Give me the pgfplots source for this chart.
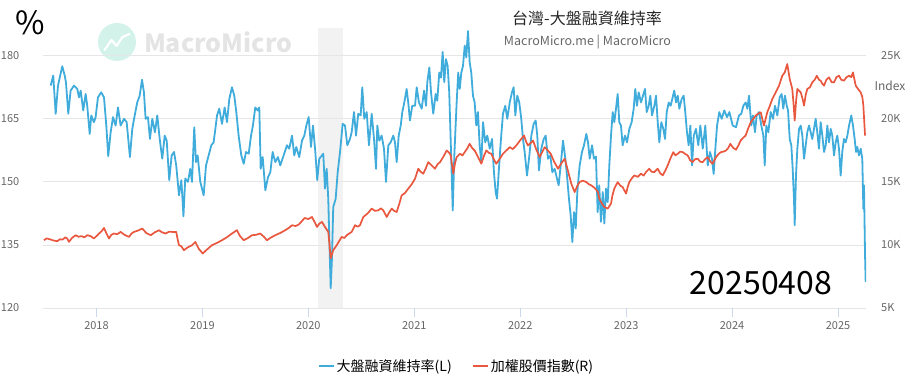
\documentclass[border=0pt]{standalone}
\usepackage{pgfplots}
\pgfplotsset{compat=1.18}
\usepackage{pgfplotstable}
\usepackage{fontspec}
\setmainfont{Noto Sans CJK TC}
\definecolor{mmblue}{HTML}{3FACDB}
\definecolor{mmred}{HTML}{E9573F}
\definecolor{gridc}{HTML}{E6E6E6}
\definecolor{tickc}{HTML}{CCD6EB}
\definecolor{labc}{HTML}{666666}
\definecolor{bandc}{HTML}{F2F2F2}
\definecolor{wmgray}{HTML}{E4E4E4}
\definecolor{wmmint}{HTML}{D3F3EA}

\pgfplotstableread{
x y
2017.568 172.9
2017.592 175.3
2017.615 166.2
2017.637 172.9
2017.677 177.5
2017.700 175.3
2017.712 173.7
2017.734 166.2
2017.756 171.7
2017.788 172.9
2017.819 172.1
2017.835 170.1
2017.851 171.7
2017.875 167.0
2017.898 170.9
2017.913 168.1
2017.936 161.4
2017.951 165.8
2017.976 164.2
2017.992 165.4
2018.014 170.1
2018.045 171.3
2018.071 170.1
2018.093 163.4
2018.111 156.1
2018.134 161.8
2018.156 165.4
2018.181 163.4
2018.203 167.7
2018.228 163.4
2018.260 165.0
2018.285 164.2
2018.316 155.9
2018.338 162.6
2018.361 165.8
2018.385 168.9
2018.408 170.5
2018.430 174.3
2018.448 171.3
2018.464 165.0
2018.486 165.4
2018.505 160.2
2018.527 165.0
2018.552 161.8
2018.574 165.8
2018.597 160.2
2018.621 155.5
2018.644 161.0
2018.663 159.8
2018.687 150.4
2018.710 156.3
2018.732 157.1
2018.753 153.9
2018.779 146.8
2018.801 150.4
2018.812 146.0
2018.821 141.8
2018.838 150.8
2018.864 150.0
2018.885 153.1
2018.902 150.0
2018.923 163.0
2018.939 154.7
2018.955 156.3
2018.980 150.0
2019.012 146.8
2019.034 153.9
2019.059 156.3
2019.084 158.7
2019.106 159.4
2019.138 165.8
2019.159 167.4
2019.185 163.8
2019.210 167.7
2019.232 164.2
2019.254 169.7
2019.279 172.5
2019.301 170.5
2019.320 166.6
2019.342 161.0
2019.367 156.3
2019.390 154.3
2019.411 157.1
2019.437 156.7
2019.459 161.0
2019.477 163.4
2019.499 167.7
2019.522 167.0
2019.537 167.7
2019.550 153.1
2019.569 155.9
2019.594 148.0
2019.619 151.1
2019.641 152.3
2019.663 157.1
2019.688 154.7
2019.713 155.9
2019.735 153.9
2019.767 156.3
2019.798 158.7
2019.820 157.9
2019.846 161.0
2019.867 156.3
2019.886 158.3
2019.914 155.9
2019.940 159.8
2019.962 161.0
2019.981 163.4
2020.003 165.4
2020.025 158.3
2020.044 163.4
2020.066 157.1
2020.084 150.4
2020.103 155.5
2020.129 156.3
2020.141 156.7
2020.157 148.4
2020.173 153.1
2020.188 146.0
2020.198 136.5
2020.211 124.7
2020.223 131.8
2020.235 144.0
2020.258 146.0
2020.277 152.3
2020.299 157.1
2020.324 163.8
2020.346 163.4
2020.368 158.7
2020.393 160.2
2020.409 161.8
2020.431 166.6
2020.450 161.0
2020.471 166.2
2020.494 165.8
2020.509 172.5
2020.528 165.0
2020.551 166.6
2020.572 158.7
2020.598 166.2
2020.620 160.2
2020.639 153.1
2020.651 163.4
2020.670 159.8
2020.692 161.0
2020.714 157.9
2020.733 150.0
2020.755 158.7
2020.777 159.4
2020.802 161.0
2020.818 159.4
2020.834 154.7
2020.853 161.0
2020.872 163.4
2020.887 166.6
2020.906 168.9
2020.928 172.1
2020.943 168.9
2020.959 164.6
2020.981 168.1
2021.007 168.1
2021.023 172.5
2021.044 168.9
2021.070 167.4
2021.092 171.7
2021.111 168.1
2021.123 173.7
2021.142 177.2
2021.158 171.3
2021.179 166.2
2021.202 170.9
2021.217 169.3
2021.236 176.0
2021.252 174.8
2021.268 180.9
2021.283 173.7
2021.299 179.2
2021.315 177.6
2021.330 171.3
2021.347 157.1
2021.363 143.2
2021.378 156.3
2021.400 168.9
2021.415 176.0
2021.429 172.1
2021.444 176.0
2021.460 177.6
2021.476 182.4
2021.491 179.6
2021.507 185.9
2021.523 178.4
2021.538 176.0
2021.554 170.5
2021.570 168.9
2021.585 163.4
2021.601 166.6
2021.617 158.7
2021.633 154.7
2021.649 164.2
2021.670 159.4
2021.689 161.0
2021.712 157.9
2021.734 160.2
2021.752 152.3
2021.768 147.6
2021.781 146.0
2021.797 152.3
2021.816 159.4
2021.837 166.2
2021.859 168.1
2021.878 165.0
2021.901 168.9
2021.922 171.3
2021.938 172.5
2021.954 165.8
2021.972 170.5
2021.991 168.9
2022.010 165.0
2022.026 160.2
2022.042 157.1
2022.064 151.5
2022.083 155.5
2022.105 161.0
2022.127 163.8
2022.146 164.6
2022.161 161.0
2022.177 152.7
2022.199 157.9
2022.222 160.2
2022.240 161.0
2022.262 155.5
2022.284 156.3
2022.303 152.3
2022.325 153.1
2022.347 150.8
2022.363 149.2
2022.382 153.9
2022.404 159.8
2022.426 155.5
2022.444 150.8
2022.460 146.0
2022.476 142.1
2022.492 135.7
2022.508 142.8
2022.524 138.9
2022.539 147.6
2022.561 153.9
2022.583 157.1
2022.602 158.7
2022.624 161.4
2022.640 159.4
2022.656 155.5
2022.678 158.7
2022.696 155.5
2022.715 156.0
2022.731 142.8
2022.746 149.2
2022.762 140.5
2022.779 147.6
2022.794 140.1
2022.810 148.4
2022.826 145.2
2022.841 153.9
2022.857 161.0
2022.873 166.6
2022.888 164.2
2022.904 167.4
2022.920 170.9
2022.935 164.2
2022.951 163.4
2022.967 158.7
2022.989 161.0
2023.008 159.4
2023.030 162.6
2023.052 164.2
2023.071 167.4
2023.086 172.1
2023.102 168.1
2023.118 171.3
2023.140 168.9
2023.159 170.5
2023.178 172.1
2023.194 166.6
2023.213 168.1
2023.228 170.5
2023.244 165.8
2023.266 168.1
2023.282 170.5
2023.298 164.2
2023.313 159.4
2023.332 164.2
2023.351 162.6
2023.367 160.2
2023.383 166.6
2023.402 168.9
2023.420 168.1
2023.439 170.1
2023.454 171.7
2023.471 168.9
2023.487 170.5
2023.502 167.4
2023.524 169.7
2023.543 170.5
2023.558 166.6
2023.574 161.8
2023.590 158.7
2023.606 163.4
2023.622 153.9
2023.638 161.0
2023.659 162.6
2023.681 158.7
2023.700 163.4
2023.723 157.9
2023.747 163.4
2023.770 153.9
2023.791 157.1
2023.810 155.5
2023.826 151.9
2023.842 157.9
2023.858 163.4
2023.879 166.6
2023.902 165.0
2023.926 167.0
2023.952 165.4
2023.974 166.6
2024.006 163.4
2024.037 163.0
2024.065 165.8
2024.087 166.2
2024.106 168.1
2024.128 168.9
2024.144 167.4
2024.160 170.5
2024.181 163.4
2024.197 165.8
2024.216 161.8
2024.232 165.8
2024.254 166.6
2024.276 163.4
2024.295 161.0
2024.308 153.9
2024.323 163.4
2024.342 161.8
2024.364 166.6
2024.386 165.0
2024.405 168.1
2024.427 165.8
2024.449 170.1
2024.468 170.9
2024.483 167.4
2024.499 170.5
2024.516 168.1
2024.528 167.0
2024.544 160.2
2024.559 158.7
2024.572 153.1
2024.584 146.0
2024.591 139.7
2024.603 151.5
2024.616 157.9
2024.632 162.6
2024.648 163.4
2024.663 161.0
2024.679 155.5
2024.695 158.7
2024.710 161.8
2024.726 163.4
2024.742 161.8
2024.757 160.2
2024.773 162.6
2024.789 165.0
2024.804 161.8
2024.820 157.9
2024.836 164.2
2024.852 161.0
2024.868 157.1
2024.884 158.7
2024.899 163.4
2024.915 159.4
2024.931 162.6
2024.946 161.0
2024.962 156.3
2024.978 159.4
2024.993 161.0
2025.009 157.9
2025.025 151.5
2025.040 157.1
2025.056 160.2
2025.072 159.4
2025.088 161.0
2025.104 163.4
2025.125 165.8
2025.141 163.4
2025.157 160.2
2025.170 157.1
2025.182 158.3
2025.198 156.3
2025.214 157.9
2025.229 155.5
2025.239 143.6
2025.245 149.2
2025.255 132.6
2025.261 126.2
}\margin

\pgfplotstableread{
x y
2017.504 10375
2017.530 10520
2017.560 10450
2017.595 10350
2017.630 10296
2017.655 10450
2017.680 10420
2017.705 10600
2017.724 10510
2017.740 10241
2017.770 10560
2017.804 10771
2017.830 10650
2017.860 10700
2017.885 10600
2017.913 10771
2017.945 10700
2017.976 10510
2018.000 10700
2018.024 10905
2018.050 11100
2018.071 11348
2018.095 10900
2018.118 10510
2018.140 10800
2018.165 10905
2018.195 10850
2018.228 11032
2018.265 10800
2018.307 10637
2018.330 10900
2018.354 11032
2018.395 11150
2018.432 11300
2018.470 10950
2018.512 10771
2018.550 11000
2018.590 11166
2018.620 11000
2018.653 10905
2018.685 11050
2018.716 11032
2018.753 11032
2018.765 10500
2018.779 9980
2018.800 9900
2018.826 9585
2018.860 9800
2018.902 9980
2018.933 10241
2018.965 9700
2019.003 9324
2019.045 9650
2019.090 9980
2019.135 10150
2019.185 10375
2019.230 10600
2019.279 10905
2019.326 11166
2019.355 10700
2019.390 10375
2019.430 10550
2019.468 10771
2019.505 10800
2019.546 10905
2019.580 10650
2019.610 10375
2019.650 10600
2019.688 10771
2019.735 10950
2019.782 11166
2019.815 11350
2019.846 11561
2019.880 11500
2019.909 11614
2019.940 11900
2019.965 12138
2020.000 12050
2020.034 12217
2020.060 11800
2020.082 11427
2020.105 11700
2020.129 11822
2020.157 11427
2020.188 11032
2020.200 10000
2020.211 8929
2020.235 9585
2020.268 9980
2020.290 10300
2020.315 10637
2020.340 10550
2020.362 10771
2020.385 10900
2020.409 11032
2020.440 11561
2020.465 11450
2020.487 11561
2020.519 12217
2020.560 12500
2020.598 12881
2020.630 12700
2020.660 12747
2020.685 12900
2020.707 12747
2020.740 12217
2020.765 12600
2020.787 12881
2020.810 12700
2020.834 12613
2020.860 13300
2020.881 13933
2020.910 14100
2020.943 14462
2020.975 14800
2021.007 15253
2021.038 16044
2021.060 15800
2021.085 15649
2021.110 16100
2021.132 16565
2021.165 16300
2021.195 16044
2021.220 16400
2021.243 16565
2021.275 17000
2021.306 17490
2021.330 17300
2021.344 17095
2021.368 15649
2021.385 16500
2021.400 16961
2021.431 17229
2021.455 17100
2021.476 17359
2021.500 17650
2021.523 18019
2021.545 17700
2021.570 17490
2021.600 17000
2021.633 16439
2021.655 17000
2021.680 17490
2021.705 17300
2021.727 17229
2021.750 16800
2021.774 16439
2021.805 16800
2021.837 17229
2021.870 17500
2021.901 17754
2021.930 17600
2021.963 17886
2022.000 18300
2022.036 18676
2022.055 18200
2022.073 17886
2022.100 18100
2022.121 18281
2022.150 17600
2022.184 16961
2022.210 17400
2022.231 17754
2022.260 17500
2022.288 17229
2022.320 16600
2022.357 16044
2022.390 16500
2022.420 16834
2022.450 15900
2022.482 14858
2022.514 14194
2022.540 14700
2022.561 14984
2022.590 15100
2022.624 14984
2022.650 14800
2022.671 14723
2022.705 14500
2022.734 14194
2022.746 13672
2022.770 13300
2022.794 13008
2022.826 12881
2022.857 13277
2022.870 13900
2022.888 14462
2022.920 14984
2022.945 14700
2022.967 14589
2022.999 14067
2023.015 14600
2023.030 14984
2023.055 15300
2023.077 15514
2023.110 15400
2023.140 15649
2023.165 15500
2023.187 15775
2023.218 16044
2023.240 15800
2023.266 15775
2023.298 16044
2023.320 15700
2023.345 15514
2023.370 15900
2023.392 16305
2023.420 16900
2023.445 17359
2023.465 17100
2023.487 17229
2023.510 17400
2023.534 17359
2023.560 17200
2023.581 17095
2023.605 16700
2023.628 16565
2023.650 16800
2023.675 16834
2023.700 16600
2023.723 16565
2023.745 16800
2023.770 16961
2023.795 16600
2023.817 16439
2023.848 16961
2023.870 17200
2023.895 17359
2023.920 17400
2023.943 17490
2023.965 17700
2023.983 18019
2024.010 17700
2024.037 17550
2024.060 17900
2024.081 18281
2024.105 18500
2024.128 18676
2024.150 19200
2024.176 19727
2024.200 20000
2024.223 20257
2024.245 20400
2024.270 20518
2024.301 19466
2024.332 20518
2024.355 21000
2024.380 21577
2024.412 22099
2024.443 22628
2024.474 23419
2024.497 23680
2024.521 24344
2024.544 23158
2024.568 22368
2024.580 21200
2024.591 19861
2024.605 21500
2024.616 22368
2024.648 22099
2024.665 21600
2024.679 21047
2024.695 21900
2024.710 22368
2024.735 22500
2024.757 22889
2024.780 23100
2024.799 23419
2024.820 23100
2024.836 23023
2024.850 22800
2024.868 22628
2024.890 23100
2024.915 23285
2024.940 22900
2024.962 22889
2024.985 23300
2025.009 23419
2025.030 23100
2025.056 23023
2025.080 23300
2025.104 23419
2025.125 23300
2025.141 23680
2025.167 22628
2025.189 22368
2025.214 22099
2025.230 21700
2025.239 21047
2025.255 18676
}\taiex

\pgfplotsset{
  common/.style={
    scale only axis, width=822.5pt, height=280pt,
    at={(0,0)}, anchor=south west,
    xmin=2017.5, xmax=2025.264,
    /pgf/number format/assume math mode=true,
    scaled ticks=false,
    tick label style={font=\fontsize{11pt}{13pt}\selectfont, text=labc},
    axis line style={draw=none},
    ytick style={draw=none},
  }
}

\begin{document}
\begin{tikzpicture}
% watermark
\fill[wmmint] (73.5pt,266pt) circle (19pt);
\draw[white, line width=2.2pt, line join=round, line cap=round]
  (61pt,258pt) -- (68pt,268pt) -- (73pt,262pt) -- (79pt,271pt) -- (86pt,274pt);
\node[text=wmgray, font=\bfseries\fontsize{25pt}{28pt}\selectfont, anchor=west] at (97pt,266pt) {MacroMicro};

% background band
\begin{axis}[common, hide axis, ymin=120, ymax=186.6]
  \fill[bandc] (axis cs:2020.09,120) rectangle (axis cs:2020.327,186.6);
\end{axis}

% left axis
\begin{axis}[common, ymin=120, ymax=186.6,
  ytick={120,135,150,165,180}, yticklabels={120,135,150,165,180},
  ymajorgrids, major grid style={gridc, line width=0.8pt},
  xtick={2018,2019,2020,2021,2022,2023,2024,2025},
  xticklabels={2018,2019,2020,2021,2022,2023,2024,2025},
  xtick pos=left, ytick pos=left,
  xtick style={draw=tickc, line width=0.8pt},
  tick align=outside, major tick length=9pt,
  xticklabel style={anchor=north, inner sep=0pt, yshift=-4pt},
  yticklabel style={anchor=east, inner sep=0pt, xshift=-15pt},
]
  \addplot[mmblue, line width=1.8pt, line join=round] table[x=x, y=y] {\margin};
\end{axis}

% right axis
\begin{axis}[common, ymin=5000, ymax=27200,
  axis x line=none,
  ytick={5000,10000,15000,20000,25000},
  yticklabels={5K,10K,15K,20K,25K},
  ytick pos=right,
  yticklabel style={anchor=west, inner sep=0pt, xshift=15pt},
  legend style={at={(0.502,-0.207)}, anchor=center, draw=none, fill=none,
    legend columns=2, font=\fontsize{14pt}{16pt}\selectfont,
    /tikz/every even column/.append style={column sep=18pt},
    inner sep=0pt},
  legend cell align=left,
  legend image code/.code={\draw[#1, line width=2pt] (0pt,0pt) -- (15pt,0pt);},
]
  \addlegendimage{mmblue}
  \addlegendentry{大盤融資維持率(L)}
  \addplot[mmred, line width=1.7pt, line join=round] table[x=x, y=y] {\taiex};
  \addlegendentry{加權股價指數(R)}
\end{axis}

% texts
\node[font=\fontsize{16pt}{19pt}\selectfont, text=black!85] at (543.5pt,290pt) {台灣-大盤融資維持率};
\node[font=\fontsize{12.5pt}{15pt}\selectfont, text=labc] at (544pt,266pt) {MacroMicro.me | MacroMicro};
\node[font=\fontsize{32pt}{36pt}\selectfont] at (-13.5pt,285pt) {\%};
\node[font=\fontsize{12pt}{14pt}\selectfont, text=labc] at (846.5pt,222pt) {Index};
\node[font=\fontsize{32pt}{36pt}\selectfont] at (717.5pt,25pt) {20250408};

\pgfresetboundingbox
\path (-43.5pt,-73pt) rectangle (869.5pt,308pt);
\end{tikzpicture}
\end{document}
